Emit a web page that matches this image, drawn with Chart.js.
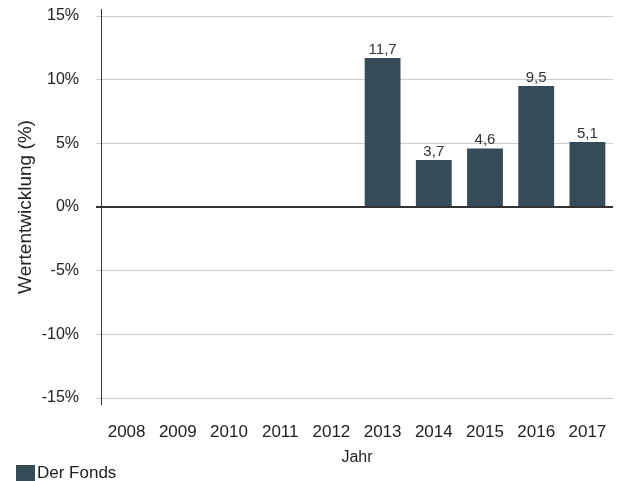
<!DOCTYPE html>
<html>
<head>
<meta charset="utf-8">
<script src="https://cdn.jsdelivr.net/npm/chart.js@4"></script>
<style>
  html, body { margin: 0; padding: 0; background: #fff; }
  #wrap { position: relative; width: 621px; height: 481px; overflow: hidden; }
  #legend { position: absolute; left: 16px; top: 465px; font: 17px 'Liberation Sans', Arial, sans-serif; color: #222; white-space: nowrap; }
  #legend span.box { display: inline-block; width: 19px; height: 16px; vertical-align: top; margin-right: 2px; }
  #legend span.txt { display: inline-block; line-height: 16px; vertical-align: top; }
</style>
</head>
<body>
<div id="wrap">
  <canvas id="chart" width="621" height="481"></canvas>
  <div id="legend"></div>
</div>
<script>
const years = ["2008", "2009", "2010", "2011", "2012", "2013", "2014", "2015", "2016", "2017"];
const fondsValues = [null, null, null, null, null, 11.7, 3.7, 4.6, 9.5, 5.1];
const yTicks = [-15, -10, -5, 0, 5, 10, 15];

const FONT = "'Liberation Sans', Arial, Helvetica, sans-serif";

// value labels above bars, German decimal comma
const barLabels = {
    id: "barLabels",
    afterDatasetsDraw(chart) {
        const ctx = chart.ctx;
        const meta = chart.getDatasetMeta(0);
        ctx.save();
        ctx.font = "15px " + FONT;
        ctx.fillStyle = "#333";
        ctx.textAlign = "center";
        ctx.textBaseline = "alphabetic";
        meta.data.forEach((bar, i) => {
            const v = fondsValues[i];
            if (v === null) return;
            ctx.fillText(v.toFixed(1).replace(".", ","), bar.x, bar.y - 4);
        });
        ctx.restore();
    }
};

// vertical y axis line, a bit longer than the plot area
const axisLine = {
    id: "axisLine",
    afterDraw(chart) {
        const ctx = chart.ctx;
        const a = chart.chartArea;
        const x = Math.round(a.left) + 0.5;
        ctx.save();
        ctx.strokeStyle = "#333";
        ctx.lineWidth = 1;
        ctx.beginPath();
        ctx.moveTo(x, a.top - 7);
        ctx.lineTo(x, a.bottom + 7);
        ctx.stroke();
        ctx.restore();
    }
};

const chart = new Chart(document.getElementById("chart"), {
    type: "bar",
    data: {
        labels: years,
        datasets: [{
            label: "Der Fonds",
            data: fondsValues,
            backgroundColor: "#364b58",
            borderWidth: 0,
            categoryPercentage: 0.7,
            barPercentage: 1.0
        }]
    },
    options: {
        responsive: false,
        animation: false,
        layout: { padding: { left: 14, right: 8, top: 16, bottom: 0 } },
        plugins: {
            tooltip: { enabled: false },
            legend: { display: false }
        },
        scales: {
            y: {
                min: -15,
                max: 15,
                afterBuildTicks(scale) {
                    scale.ticks = yTicks.map(v => ({ value: v }));
                },
                afterFit(scale) {
                    scale.width = 87;
                    scale.paddingTop = 0;
                    scale.paddingBottom = 0;
                },
                border: { display: false },
                grid: {
                    color: ctx => ctx.tick && ctx.tick.value === 0 ? "#333" : "#cccccc",
                    lineWidth: ctx => ctx.tick && ctx.tick.value === 0 ? 2 : 1,
                    tickLength: 5
                },
                ticks: {
                    padding: 17,
                    color: "#222",
                    font: { family: FONT, size: 16 },
                    callback: v => v + "%"
                },
                title: {
                    display: true,
                    text: "Wertentwicklung (%)",
                    color: "#222",
                    padding: 0,
                    font: { family: FONT, size: 19 }
                }
            },
            x: {
                afterFit(scale) {
                    scale.height = 83;
                    scale.paddingLeft = 0;
                    scale.paddingRight = 0;
                },
                border: { display: false },
                grid: { display: false, drawTicks: false },
                ticks: {
                    padding: 24,
                    color: "#222",
                    maxRotation: 0,
                    font: { family: FONT, size: 17 }
                },
                title: {
                    display: true,
                    text: "Jahr",
                    color: "#222",
                    padding: { top: 0, bottom: 14 },
                    font: { family: FONT, size: 16 }
                }
            }
        }
    },
    plugins: [barLabels, axisLine]
});

// legend built from the dataset
const ds = chart.data.datasets[0];
document.getElementById("legend").innerHTML =
    '<span class="box" style="background:' + ds.backgroundColor + '"></span><span class="txt">' + ds.label + '</span>';
</script>
</body>
</html>
